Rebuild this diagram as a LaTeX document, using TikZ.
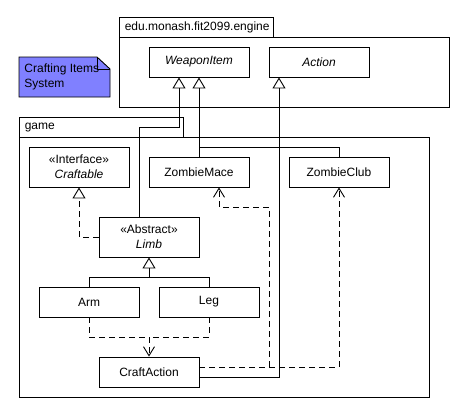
\documentclass[tikz,border=0pt]{standalone}
\usepackage{fontspec}
\setmainfont{Liberation Sans}
\usetikzlibrary{arrows.meta,shapes.misc}
\definecolor{notefill}{RGB}{128,128,255}
\tikzset{
    cls/.style={draw, minimum width=100pt, minimum height=30pt, inner sep=0pt, align=center},
    inherit/.style={-{Triangle[open,width=13pt,length=11pt]}},
    depend/.style={dash pattern=on 6pt off 4pt, -{Straight Barb[width=11pt,length=9pt]}},
    realize/.style={dash pattern=on 6pt off 4pt, -{Triangle[open,width=13pt,length=11pt]}},
}
\begin{document}
\begin{tikzpicture}[x=1pt,y=-1pt,line width=0.9pt,font=\fontsize{12}{15}\selectfont]
        \useasboundingbox (0,0) rectangle (459,413);
        %% note
        \fill[notefill] (19,57) -- (97,57) -- (110,69) -- (110,97) -- (19,97) -- cycle;
        \draw (19,57) -- (97,57) -- (110,69) -- (110,97) -- (19,97) -- cycle;
        \draw (97,57) -- (97,69) -- (110,69);
        \node[anchor=north west, align=left, inner sep=0pt] (note) at (24,63) {Crafting Items\\System};
        %% package engine
        \draw (119,17) rectangle (273,37);
        \node[anchor=west] (enginetab) at (121,27.5) {edu.monash.fit2099.engine};
        \draw (119,37) rectangle (449,107);
        \node[cls, font=\fontsize{12}{15}\selectfont\itshape] (weapon) at (199,62) {WeaponItem};
        \node[cls, font=\fontsize{12}{15}\selectfont\itshape] (action) at (319,62) {Action};
        %% package game
        \draw (19,117) rectangle (183,137);
        \node[anchor=west] (gametab) at (21,127.5) {game};
        \draw (19,137) rectangle (429,397);
        \node[cls, minimum height=40pt] (craftable) at (79,167) {«Interface»\\\textit{Craftable}};
        \node[cls] (mace) at (199,172) {ZombieMace};
        \node[cls] (club) at (339,172) {ZombieClub};
        \node[cls, minimum height=40pt] (limb) at (149,237) {«Abstract»\\\textit{Limb}};
        \node[cls] (arm) at (89,302) {Arm};
        \node[cls] (leg) at (209,302) {Leg};
        \node[cls] (craft) at (149,372) {CraftAction};
        %% generalisations
        \draw[inherit] ([xshift=-10pt]limb.north) |- (179,127) -- ([xshift=-20pt]weapon.south);
        \draw[inherit] (mace.north) -- (weapon.south);
        \draw (club.north) |- (199,147);
        \draw[inherit] ([yshift=-5pt]craft.east) -| ([xshift=-40pt]action.south);
        \draw (arm.north) |- (149,277);
        \draw[inherit] (leg.north) |- (149,277) -- (limb.south);
        %% realisation
        \draw[realize] (limb.west) -| (craftable.south);
        %% dependencies
        \draw[dash pattern=on 6pt off 4pt] (arm.south) |- (149,337);
        \draw[depend] (leg.south) |- (149,337) -- (craft.north);
        \draw[depend] ([yshift=5pt]craft.east) -| (club.south);
        \draw[depend] ([yshift=5pt]craft.east) -| (269,207) -| ([xshift=20pt]mace.south);
    \end{tikzpicture}
\end{document}
